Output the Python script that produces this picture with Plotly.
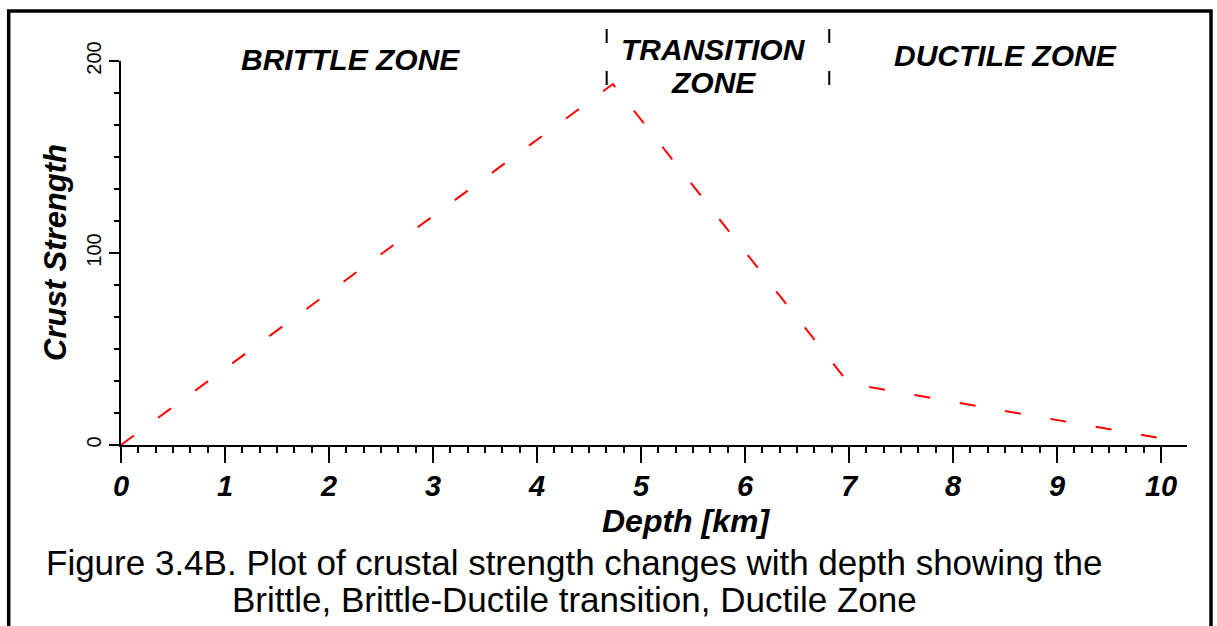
import numpy as np
import plotly.graph_objects as go

# ---------------- data ----------------
depth_km = [0.0, 4.73, 7.0, 10.16]
crust_strength = [0, 188, 32, 2]

x_tick_vals = [0, 1, 2, 3, 4, 5, 6, 7, 8, 9, 10]
x_tick_text = ["0", "1", "2", "3", "4", "5", "6", "7", "8", "9", "10"]
y_tick_vals = [0, 100, 200]
y_tick_text = ["0", "100", "200"]

zone_bounds = [4.67, 6.81]           # brittle|transition, transition|ductile
zone_label_x = [2.21, 5.70, 5.70, 8.50]
zone_label_text = ["BRITTLE ZONE", "TRANSITION", "ZONE", "DUCTILE ZONE"]

x_title = "Depth [km]"
y_title = "Crust Strength"
caption_lines = [
    "Figure 3.4B. Plot of crustal strength changes with depth showing the",
    "Brittle, Brittle-Ductile transition, Ductile Zone",
]

# ---------------- figure ----------------
FONT = "Arial, 'Liberation Sans', sans-serif"
W, H = 1217, 626
ML, MR, MT, MB = 121, 30, 61, 181
plot_w = W - ML - MR
plot_h = H - MT - MB


def py(px_y):
    """pixel row -> paper y"""
    return (H - MB - px_y) / plot_h


def px_(px_x):
    """pixel column -> paper x"""
    return (px_x - ML) / plot_w


fig = go.Figure()
fig.add_trace(go.Scatter(
    x=depth_km, y=crust_strength, mode="lines",
    line=dict(color="#ff0000", width=2, dash="16px,30px"),
    showlegend=False, hoverinfo="skip",
))

minor_x = [v for v in np.arange(0, 10.0001, 1 / 6)]

fig.update_xaxes(
    range=[0, 10.25], showgrid=False, zeroline=False,
    showline=True, linecolor="black", linewidth=2,
    ticks="outside", ticklen=16, tickwidth=2, tickcolor="black",
    tickmode="array", tickvals=x_tick_vals, ticktext=x_tick_text,
    ticklabelstandoff=-2,
    tickfont=dict(family=FONT, size=29, color="black", weight="bold", style="italic"),
    minor=dict(tickmode="array", tickvals=minor_x, ticks="outside", ticklen=6,
               tickwidth=2, tickcolor="black", showgrid=False),
)
fig.update_yaxes(
    range=[0, 200], showgrid=False, zeroline=False,
    showline=True, linecolor="black", linewidth=2,
    ticks="outside", ticklen=10, tickwidth=2, tickcolor="black",
    tickmode="array", tickvals=y_tick_vals, ticktext=y_tick_text,
    tickangle=-90,
    tickfont=dict(family=FONT, size=20, color="black"),
    minor=dict(dtick=100 / 6, tick0=0, ticks="outside", ticklen=5,
               tickwidth=2, tickcolor="black", showgrid=False),
)

annotations = []
# zone labels
zone_label_y = [py(59.5), py(49.5), py(82.3), py(55.5)]
for xv, yv, t in zip(zone_label_x, zone_label_y, zone_label_text):
    annotations.append(dict(
        x=xv, y=yv, xref="x", yref="paper", text=t, showarrow=False,
        xanchor="center", yanchor="middle",
        font=dict(family=FONT, size=30, color="black", weight="bold", style="italic"),
    ))
# axis titles
annotations.append(dict(
    x=5.43, y=py(521), xref="x", yref="paper", text=x_title, showarrow=False,
    xanchor="center", yanchor="middle", borderpad=0,
    font=dict(family=FONT, size=32, color="black", weight="bold", style="italic"),
))
annotations.append(dict(
    x=px_(55), y=100, xref="paper", yref="y", text=y_title, showarrow=False,
    textangle=-90, xanchor="center", yanchor="middle",
    font=dict(family=FONT, size=31, color="black", weight="bold", style="italic"),
))
# caption
for line, ypx in zip(caption_lines, [562, 599]):
    annotations.append(dict(
        x=px_(574), y=py(ypx), xref="paper", yref="paper", text=line,
        showarrow=False, xanchor="center", yanchor="middle", borderpad=0,
        font=dict(family=FONT, size=35, color="black"),
    ))

shapes = []
# zone separators (dashed verticals above the plot)
for b in zone_bounds:
    shapes.append(dict(
        type="line", xref="x", yref="paper", x0=b, x1=b, y0=py(29), y1=py(86),
        line=dict(color="black", width=2, dash="14px,28px"),
    ))
# outer frame (left, top, right)
shapes.append(dict(
    type="rect", xref="paper", yref="paper",
    x0=px_(8.7), x1=px_(1211), y0=py(700), y1=py(11),
    line=dict(color="black", width=3.5), fillcolor="rgba(0,0,0,0)",
))

fig.update_layout(
    width=W, height=H, autosize=False,
    margin=dict(l=ML, r=MR, t=MT, b=MB, pad=0),
    paper_bgcolor="white", plot_bgcolor="white",
    annotations=annotations, shapes=shapes,
    showlegend=False,
)

fig.write_html(
    "out.html",
    config={"displayModeBar": False},
    post_script="document.body.style.margin='0';document.body.style.overflow='hidden';",
)
